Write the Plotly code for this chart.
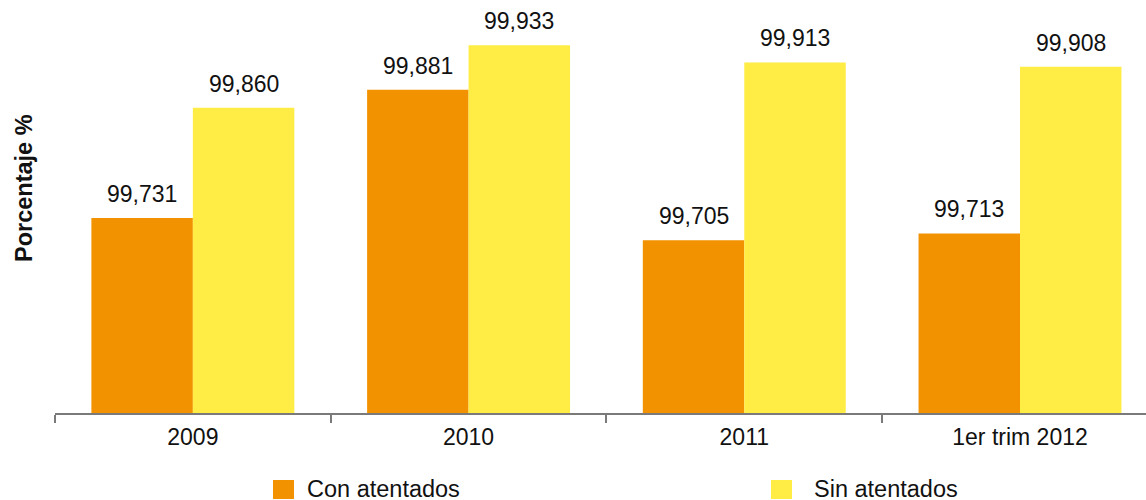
import plotly.graph_objects as go

# Periods and availability percentages
categories = ["2009", "2010", "2011", "1er trim 2012"]
series_names = ["Con atentados", "Sin atentados"]
con_atentados = [99.731, 99.881, 99.705, 99.713]
sin_atentados = [99.860, 99.933, 99.913, 99.908]

colors = ["#F39200", "#FFEC45"]
FONT = "Liberation Sans, Arial, sans-serif"
TXT = "#111111"
AXIS = "#7a7a7a"

W, H = 1146, 500
L, R, T, B = 55, 0, 0, 87
PW, PH = W - L - R, H - T - B
BAR_HALF_PX = 50.75  # half of one bar's drawn width, for value label placement


def px_x(px):
    return (px - L) / PW


def px_y(py):
    return (H - B - py) / PH


fig = go.Figure()
for i, (name, vals, col) in enumerate(zip(series_names, [con_atentados, sin_atentados], colors)):
    fig.add_trace(go.Bar(
        x=categories, y=vals, name=name,
        marker=dict(color=col, line=dict(width=0)),
        showlegend=False,
    ))
    # value labels above each bar (category position given by index)
    shift = -BAR_HALF_PX if i == 0 else BAR_HALF_PX
    for j, v in enumerate(vals):
        fig.add_annotation(
            x=j, y=v, xref="x", yref="y", text=f"{v:.3f}".replace(".", ","),
            showarrow=False, xanchor="center", yanchor="bottom",
            xshift=shift, yshift=9,
            font=dict(family=FONT, size=23, color=TXT),
        )

# Legend drawn as colored squares with labels below the axis
legend_pos = [(273, 305), (771, 812)]
for (sx, tx), name, col in zip(legend_pos, series_names, colors):
    fig.add_shape(type="rect", xref="paper", yref="paper",
                  x0=px_x(sx), x1=px_x(sx + 21), y0=px_y(480), y1=px_y(499),
                  fillcolor=col, line=dict(width=0))
    fig.add_annotation(xref="paper", yref="paper", x=px_x(tx), y=px_y(489),
                       text=name, showarrow=False, xanchor="left", yanchor="middle",
                       font=dict(family=FONT, size=23.5, color=TXT))

fig.add_annotation(xref="paper", yref="paper", x=px_x(24), y=px_y(188),
                   text="<b>Porcentaje %</b>", textangle=-90, showarrow=False,
                   xanchor="center", yanchor="middle",
                   font=dict(family=FONT, size=23.5, color=TXT))

fig.update_layout(
    width=W, height=H,
    margin=dict(l=L, r=R, t=T, b=B),
    barmode="group", bargap=0.264, bargroupgap=0,
    plot_bgcolor="white", paper_bgcolor="white",
    font=dict(family=FONT, size=23, color=TXT),
    xaxis=dict(
        type="category", range=[-0.5, 3.457],
        tickson="boundaries", ticks="outside", ticklen=8, tickwidth=1.5,
        tickcolor=AXIS, showline=True, linecolor=AXIS, linewidth=1.5,
        ticklabelstandoff=3,
        showgrid=False, tickfont=dict(family=FONT, size=23, color=TXT),
    ),
    yaxis=dict(range=[99.503, 99.986], visible=False, showgrid=False),
)

fig.write_html("out.html")
